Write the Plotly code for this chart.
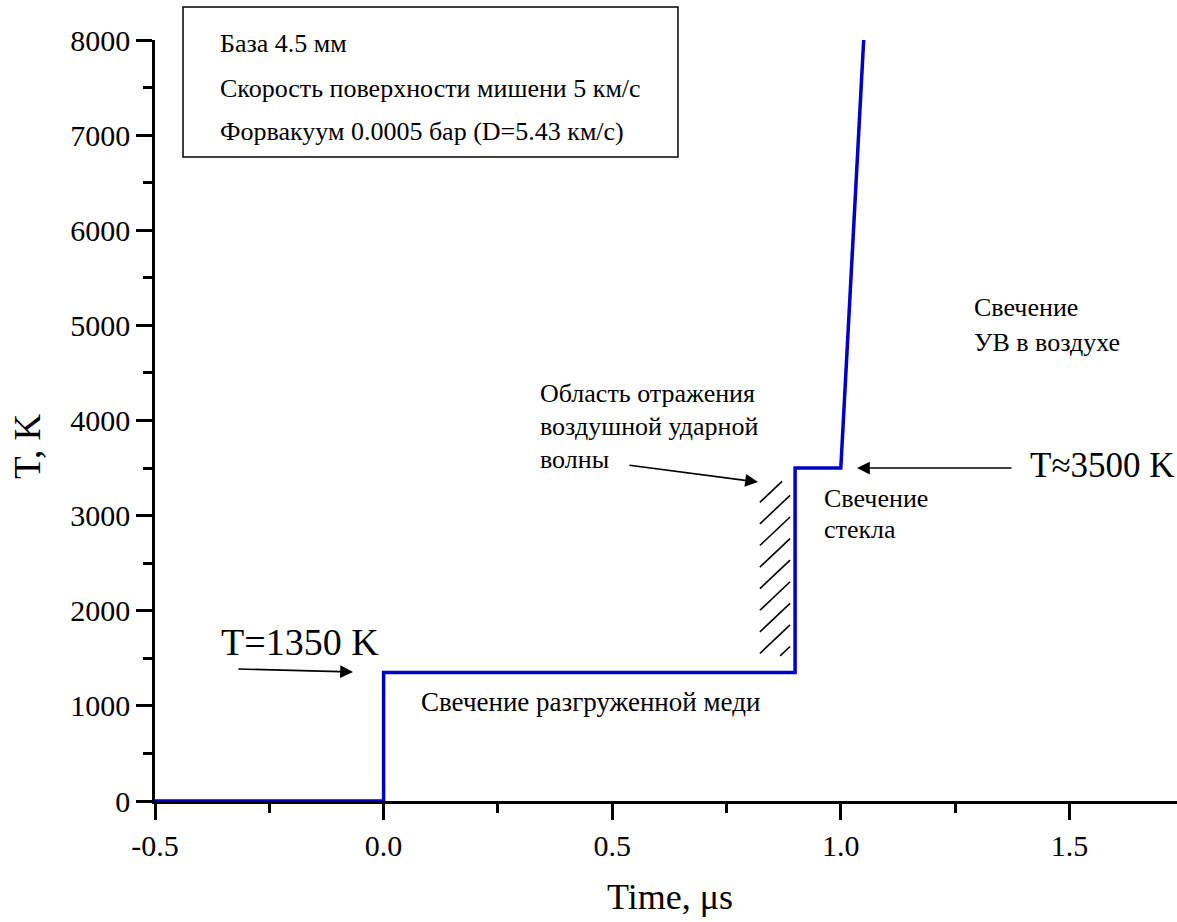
import plotly.graph_objects as go

# Temperature history of the glowing region (step profile)
time_us = [-0.5, 0.0, 0.0, 0.9, 0.9, 1.0, 1.05]
temp_k = [0, 0, 1350, 1350, 3500, 3500, 8000]

x_ticks = [-0.5, 0.0, 0.5, 1.0, 1.5]
x_tick_text = ["-0.5", "0.0", "0.5", "1.0", "1.5"]
y_ticks = [0, 1000, 2000, 3000, 4000, 5000, 6000, 7000, 8000]

info_lines = [
    "База 4.5 мм",
    "Скорость поверхности мишени 5 км/с",
    "Форвакуум 0.0005 бар (D=5.43 км/с)",
]

FONT = "Liberation Serif"
X_RANGE = [-0.5, 1.7353]
Y_RANGE = [0, 8000]

fig = go.Figure()
fig.add_trace(go.Scatter(
    x=time_us, y=temp_k, mode="lines",
    line=dict(color="#0000c8", width=3.5),
    showlegend=False, hoverinfo="skip", cliponaxis=False,
))

annotations = []
shapes = []


def text(x, y, s, size=26, xanchor="left", xref="x", yref="y", **kw):
    annotations.append(dict(
        x=x, y=y, xref=xref, yref=yref, text=s, showarrow=False,
        xanchor=xanchor, yanchor="middle",
        font=dict(family=FONT, size=size, color="black"), **kw))


def arrow(x_tail, y_tail, x_head, y_head):
    annotations.append(dict(
        x=x_head, y=y_head, ax=x_tail, ay=y_tail,
        xref="x", yref="y", axref="x", ayref="y",
        text="", showarrow=True, arrowhead=2, arrowsize=1.6,
        arrowwidth=1.6, arrowcolor="black", standoff=0))


# Info box in the upper left corner
shapes.append(dict(type="rect", xref="paper", yref="paper",
                   x0=0.0274, x1=0.5117, y0=0.8463, y1=1.0434,
                   line=dict(color="black", width=1.5), fillcolor="white",
                   layer="below"))
for line, yv in zip(info_lines, [7968, 7495, 7033]):
    text(-0.362, yv, line, size=26)

# Copper plateau
text(-0.183, 1671, "T=1350 K", size=38, xanchor="center")
arrow(-0.321, 1388, -0.067, 1356)
text(0.077, 1041, "Свечение разгруженной меди", size=27)

# Reflection region of the air shock wave
for s, yv in zip(["Область отражения", "воздушной ударной", "волны"],
                 [4289, 3932, 3585]):
    text(0.338, yv, s, size=26)
arrow(0.5345, 3532, 0.8189, 3353)

# Hatched band left of the glass jump
hx0, hx1 = 0.823, 0.889
hy0, hy1 = 1525, 3360
slope = 298 / 0.0656
for k in range(9):
    c = 1324 + 227 * k
    xa, ya = hx0, c
    xb, yb = hx1, c + slope * (hx1 - hx0)
    if ya < hy0:
        xa, ya = hx0 + (hy0 - c) / slope, hy0
    if yb > hy1:
        xb, yb = hx0 + (hy1 - c) / slope, hy1
    shapes.append(dict(type="line", xref="x", yref="y",
                       x0=xa, y0=ya, x1=xb, y1=yb,
                       line=dict(color="black", width=1.6)))

# Glass plateau
text(0.959, 3185, "Свечение", size=26)
text(0.959, 2849, "стекла", size=26)
arrow(1.3766, 3500, 1.0354, 3500)
text(1.4094, 3532, "T≈3500 K", size=35)

# Air shock glow
text(1.287, 5183, "Свечение", size=26)
text(1.287, 4815, "УВ в воздухе", size=26)

# Axis titles
text(-0.1243, 0.4665, "T, K", size=37, xanchor="center",
     xref="paper", yref="paper", textangle=-90)
text(0.504, -0.126, "Time, μs", size=36, xanchor="center",
     xref="paper", yref="paper")

axis_common = dict(
    showline=True, linecolor="black", linewidth=2.5,
    ticks="outside", ticklen=16, tickwidth=2.5, tickcolor="black",
    showgrid=False, zeroline=False,
    tickfont=dict(family=FONT, size=30, color="black"),
)

fig.update_layout(
    width=1177, height=922,
    margin=dict(l=155, r=0, t=40, b=121),
    paper_bgcolor="white", plot_bgcolor="white",
    font=dict(family=FONT),
    xaxis=dict(range=X_RANGE, tickmode="array", tickvals=x_ticks,
               ticktext=x_tick_text,
               minor=dict(dtick=0.25, tick0=-0.5, ticks="outside", ticklen=9,
                          tickwidth=2.5, tickcolor="black"),
               **axis_common),
    yaxis=dict(range=Y_RANGE, tickmode="array", tickvals=y_ticks,
               minor=dict(dtick=500, tick0=0, ticks="outside", ticklen=9,
                          tickwidth=2.5, tickcolor="black"),
               **axis_common),
    annotations=annotations,
    shapes=shapes,
)

fig.write_html("out.html")
